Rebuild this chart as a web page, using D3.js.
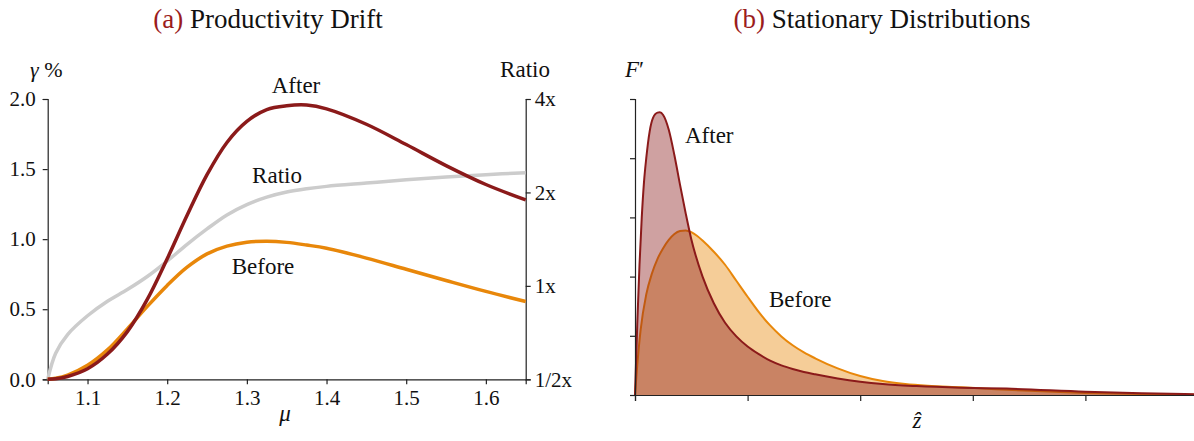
<!DOCTYPE html>
<html><head><meta charset="utf-8">
<script src="https://cdn.jsdelivr.net/npm/d3@7"></script>
<style>
html,body{margin:0;padding:0;background:#fff;}
svg{display:block;font-family:"Liberation Serif","DejaVu Serif",serif;}
</style></head>
<body>
<svg id="chart" width="1194" height="441"></svg>
<script>
// ---------- Panel (a) data ----------
const mu          = [1.05,1.06,1.075,1.1,1.125,1.15,1.175,1.2,1.225,1.25,1.275,1.3,1.325,1.35,1.375,1.4,1.45,1.5,1.55,1.6,1.65];
const gammaAfter  = [0.0,0.004,0.02,0.075,0.18,0.34,0.57,0.86,1.17,1.46,1.69,1.84,1.925,1.952,1.957,1.93,1.82,1.675,1.525,1.39,1.28];
const gammaBefore = [0.0,0.007,0.03,0.10,0.21,0.36,0.52,0.67,0.80,0.895,0.95,0.978,0.985,0.977,0.958,0.935,0.865,0.785,0.705,0.627,0.555];
const ratio       = [0.50,0.607,0.697,0.801,0.892,0.973,1.072,1.202,1.361,1.526,1.693,1.828,1.932,2.007,2.056,2.092,2.144,2.196,2.242,2.282,2.313];
const muTicks = [1.1,1.2,1.3,1.4,1.5,1.6];
const gammaTicks = [0,0.5,1.0,1.5,2.0];
const ratioTicks = [0.5,1,2,4];
const ratioTickLabels = ["1/2x","1x","2x","4x"];

// ---------- Panel (b) data ----------
const zAfter    = [0,0.02,0.04,0.06,0.08,0.1,0.13,0.16,0.2,0.22,0.25,0.3,0.35,0.4,0.45,0.5,0.6,0.7,0.8,0.9,1.0,1.1,1.2,1.3,1.4,1.5,1.6,1.8,2.0,2.2,2.5,2.9,3.3,4.0,4.5,5.0];
const densAfter = [0,1.2,2.2,3.0,3.6,4.0,4.45,4.68,4.77,4.775,4.73,4.48,4.05,3.55,3.07,2.63,2.0,1.55,1.22,0.99,0.82,0.69,0.58,0.50,0.44,0.39,0.35,0.28,0.225,0.185,0.15,0.122,0.108,0.056,0.03,0.012];
const zBefore    = [0,0.02,0.05,0.1,0.15,0.2,0.25,0.3,0.35,0.4,0.45,0.5,0.55,0.6,0.7,0.8,0.9,1.0,1.1,1.2,1.3,1.4,1.5,1.6,1.8,2.0,2.2,2.4,2.6,2.9,3.2,3.5,4.0,4.5,5.0];
const densBefore = [0,0.5,1.1,1.7,2.05,2.3,2.48,2.62,2.72,2.77,2.78,2.75,2.69,2.61,2.42,2.2,1.93,1.66,1.40,1.175,0.99,0.84,0.72,0.62,0.45,0.32,0.235,0.185,0.155,0.13,0.098,0.07,0.035,0.015,0.005];
const zTicks = [0,1,2,3,4,5];
const densTicks = [0,1,2,3,4,5];

const svg = d3.select("#chart");
const cRed = "#8b1a1a", cOrange = "#e8870a", cGray = "#cccccc", axisCol = "#222";

// ================= Panel (a) =================
const xA = d3.scaleLinear().domain([1.05,1.65]).range([47.7,525.7]);
const yA = d3.scaleLinear().domain([0,2]).range([379.3,99]);
const yR = d3.scaleLog().base(2).domain([0.5,4]).range([379.3,99]);

function styleAxis(g, fs){
  g.selectAll(".domain").attr("stroke",axisCol).attr("stroke-width",1.2);
  g.selectAll(".tick line").attr("stroke",axisCol).attr("stroke-width",1.2);
  g.selectAll(".tick text").attr("fill","#111").style("font-size",fs+"px").style("font-family",'"Liberation Serif",serif');
}

const axL = svg.append("g").attr("transform",`translate(${xA.range()[0]},0)`)
  .call(d3.axisLeft(yA).tickValues(gammaTicks).tickFormat(d3.format(".1f")).tickSizeOuter(0).tickSize(5).tickPadding(7));
styleAxis(axL,21);
const axB = svg.append("g").attr("transform",`translate(0,${yA.range()[0]})`)
  .call(d3.axisBottom(xA).tickValues(muTicks).tickFormat(d3.format(".1f")).tickSizeOuter(0).tickSize(5).tickPadding(6));
styleAxis(axB,21);
const axR = svg.append("g").attr("transform",`translate(${xA.range()[1]},0)`)
  .call(d3.axisRight(yR).tickValues(ratioTicks).tickFormat((d,i)=>ratioTickLabels[i]).tickSizeOuter(0).tickSize(5).tickPadding(4));
styleAxis(axR,21);

const lineGen = (ys, yScale) => d3.line()
  .x((d,i)=>xA(mu[i])).y((d,i)=>yScale(ys[i])).curve(d3.curveCatmullRom.alpha(0.5));

const gA = svg.append("g");
gA.append("path").datum(ratio).attr("d",lineGen(ratio,yR)).attr("fill","none").attr("stroke",cGray).attr("stroke-width",3.5);
gA.append("path").datum(gammaBefore).attr("d",lineGen(gammaBefore,yA)).attr("fill","none").attr("stroke",cOrange).attr("stroke-width",3.5);
gA.append("path").datum(gammaAfter).attr("d",lineGen(gammaAfter,yA)).attr("fill","none").attr("stroke",cRed).attr("stroke-width",3.5);

const lab = (x,y,t,fs,anchor,italic) => svg.append("text").attr("x",x).attr("y",y).attr("text-anchor",anchor||"middle")
  .style("font-size",fs+"px").style("font-style",italic?"italic":"normal").attr("fill","#111").text(t);

lab(296,93,"After",23);
lab(277,183,"Ratio",23);
lab(263,274,"Before",23);

// axis labels
const gl = svg.append("text").attr("x",30).attr("y",77).style("font-size","22px").attr("fill","#111");
gl.append("tspan").style("font-style","italic").text("γ");
gl.append("tspan").text(" %");
lab(525,77,"Ratio",23);
lab(285,421,"μ",23,"middle",true);

// title a
const ta = svg.append("text").attr("x",268).attr("y",28).attr("text-anchor","middle").style("font-size","27px").attr("fill","#111");
ta.append("tspan").attr("fill","#9b1c1c").text("(a)");
ta.append("tspan").text(" Productivity Drift");

// ================= Panel (b) =================
const xB = d3.scaleLinear().domain([0,5]).range([635,1198]);
const yB = d3.scaleLinear().domain([0,5]).range([395,99]);

const gB = svg.append("g");
const areaGen = (xs, ys) => d3.area().x((d,i)=>xB(xs[i])).y0(yB(0)).y1((d,i)=>yB(ys[i])).curve(d3.curveMonotoneX);
const lineGenB = (xs, ys) => d3.line().x((d,i)=>xB(xs[i])).y((d,i)=>yB(ys[i])).curve(d3.curveMonotoneX);

gB.append("path").datum(densBefore).attr("d",areaGen(zBefore,densBefore)).attr("fill",cOrange).attr("fill-opacity",0.42);
gB.append("path").datum(densBefore).attr("d",lineGenB(zBefore,densBefore)).attr("fill","none").attr("stroke",cOrange).attr("stroke-width",2);
gB.append("path").datum(densAfter).attr("d",areaGen(zAfter,densAfter)).attr("fill",cRed).attr("fill-opacity",0.41);
gB.append("path").datum(densAfter).attr("d",lineGenB(zAfter,densAfter)).attr("fill","none").attr("stroke",cRed).attr("stroke-width",2);

const axBL = svg.append("g").attr("transform",`translate(${xB(0)},0)`)
  .call(d3.axisLeft(yB).tickValues(densTicks).tickFormat("").tickSizeOuter(0).tickSize(5));
styleAxis(axBL,10);
const axBB = svg.append("g").attr("transform",`translate(0,${yB(0)})`)
  .call(d3.axisBottom(xB).tickValues(zTicks).tickFormat("").tickSizeOuter(0).tickSize(6));
styleAxis(axBB,10);

lab(685,143,"After",23,"start");
lab(769,307,"Before",23,"start");
const fl = svg.append("text").attr("x",625).attr("y",77).style("font-size","23px").attr("fill","#111");
fl.append("tspan").style("font-style","italic").text("F");
fl.append("tspan").text("′");
lab(917,428,"z\u0302",23,"middle",true);

const tb = svg.append("text").attr("x",882).attr("y",28).attr("text-anchor","middle").style("font-size","27px").attr("fill","#111");
tb.append("tspan").attr("fill","#9b1c1c").text("(b)");
tb.append("tspan").text(" Stationary Distributions");
</script>
</body></html>
